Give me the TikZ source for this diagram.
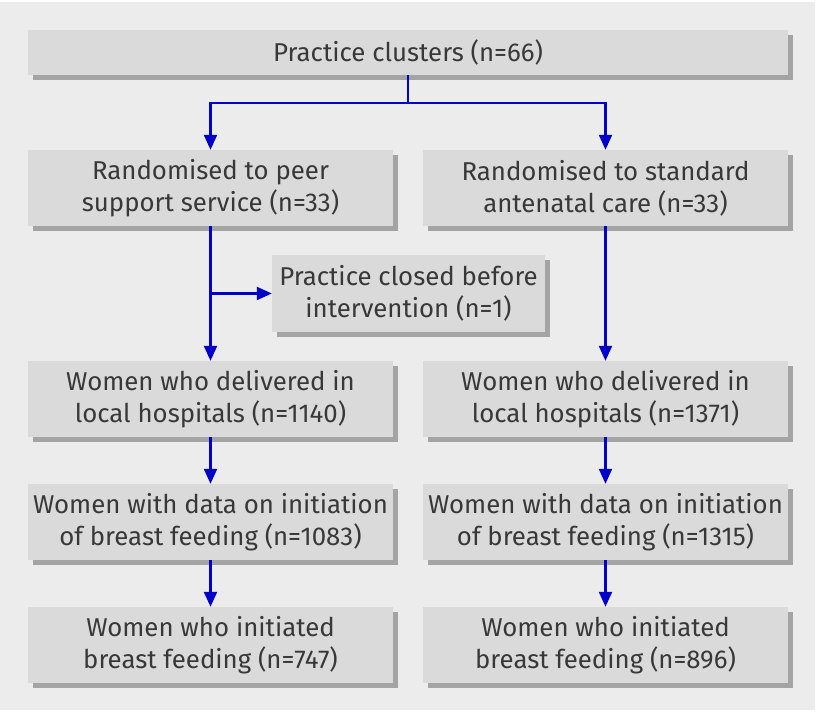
\documentclass[tikz,border=0pt]{standalone}
\usepackage{fontspec}
\setmainfont{Fira Sans}
\usetikzlibrary{arrows.meta,shadows}

\definecolor{bggray}{HTML}{ECECEC}
\definecolor{boxgray}{HTML}{DADADA}
\definecolor{shadegray}{HTML}{A4A4A4}
\definecolor{txtgray}{HTML}{383838}
\definecolor{flowblue}{RGB}{0,0,200}

\begin{document}
\begin{tikzpicture}[x=1pt, y=1pt,
    box/.style={fill=boxgray, text=txtgray, inner sep=0pt, align=center,
        minimum width=365pt, minimum height=76pt,
        font=\fontsize{25.8}{32}\selectfont,
        drop shadow={shadow xshift=5pt, shadow yshift=-5pt, fill=shadegray, opacity=1}},
    flow/.style={draw=flowblue, line width=2.2pt,
        -{Triangle[length=15pt, width=13pt]}}]
    % background
    \useasboundingbox (0,0) rectangle (820,712);
    \fill[bggray] (0,2) rectangle (815,710);

    % boxes
    \node[box, minimum width=760pt, minimum height=45pt] (clusters) at (408,659.5) {Practice clusters (n=66)};
    \node[box] (peer) at (210.5,524) {Randomised to peer\\support service (n=33)};
    \node[box] (standard) at (605.5,524) {Randomised to standard\\antenatal care (n=33)};
    \node[box, minimum width=273pt, minimum height=77pt] (closed) at (408.5,418.5) {Practice closed before\\intervention (n=1)};
    \node[box] (deliv1) at (210.5,313) {Women who delivered in\\local hospitals (n=1140)};
    \node[box] (deliv2) at (605.5,313) {Women who delivered in\\local hospitals (n=1371)};
    \node[box] (data1) at (210.5,190) {Women with data on initiation\\of breast feeding (n=1083)};
    \node[box] (data2) at (605.5,190) {Women with data on initiation\\of breast feeding (n=1315)};
    \node[box] (init1) at (210.5,67) {Women who initiated\\breast feeding (n=747)};
    \node[box] (init2) at (605.5,67) {Women who initiated\\breast feeding (n=896)};

    % connectors
    \coordinate (split) at ([yshift=-28pt]clusters.south);
    \draw[flow] (clusters.south) -- (split) -| (peer.north);
    \draw[flow] (split) -| (standard.north);
    \draw[flow] (peer.south) -- (deliv1.north);
    \draw[flow] (peer.south |- closed.west) -- (closed.west);
    \draw[flow] (standard.south) -- (deliv2.north);
    \draw[flow] (deliv1) -- (data1);
    \draw[flow] (deliv2) -- (data2);
    \draw[flow] (data1) -- (init1);
    \draw[flow] (data2) -- (init2);
\end{tikzpicture}
\end{document}
